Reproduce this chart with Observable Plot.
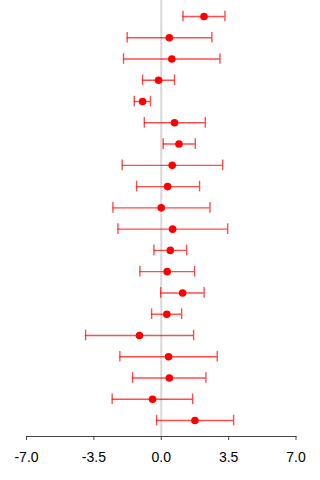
<!DOCTYPE html>
<html>
<head>
<meta charset="utf-8">
<script src="https://cdn.jsdelivr.net/npm/d3@7"></script>
<script src="https://cdn.jsdelivr.net/npm/@observablehq/plot@0.6"></script>
<style>
  html, body { margin: 0; padding: 0; background: #fff; }
  #chart svg { display: block; font-family: "Liberation Sans", Arial, sans-serif; }
</style>
</head>
<body>
<div id="chart"></div>
<script>
// Study rows, top to bottom
const rowIds = [1, 2, 3, 4, 5, 6, 7, 8, 9, 10, 11, 12, 13, 14, 15, 16, 17, 18, 19, 20];
// Point estimates
const estimates = [2.22, 0.42, 0.55, -0.14, -0.97, 0.69, 0.92, 0.57, 0.33, 0.0,
                   0.59, 0.47, 0.31, 1.11, 0.29, -1.13, 0.38, 0.42, -0.45, 1.75];
// Lower interval bounds
const lowers = [1.13, -1.77, -1.96, -0.97, -1.40, -0.88, 0.10, -2.03, -1.28, -2.51,
                -2.25, -0.38, -1.11, -0.03, -0.50, -3.93, -2.15, -1.49, -2.55, -0.24];
// Upper interval bounds
const uppers = [3.31, 2.63, 3.05, 0.69, -0.56, 2.29, 1.77, 3.19, 1.99, 2.53,
                3.45, 1.32, 1.73, 2.23, 1.06, 1.68, 2.91, 2.32, 1.63, 3.76];
// Axis ticks and their labels
const xTicks = [-7, -3.5, 0, 3.5, 7];
const xTickLabels = ["-7.0", "-3.5", "0.0", "3.5", "7.0"];

const rows = rowIds.map((id, i) => ({id, est: estimates[i], lo: lowers[i], hi: uppers[i]}));

const chart = Plot.plot({
  width: 320,
  height: 480,
  marginLeft: 26,
  marginRight: 24.5,
  marginTop: 0,
  marginBottom: 44,
  x: {domain: [-7, 7]},
  y: {type: "band", domain: rowIds, paddingInner: 0.5, paddingOuter: 0.5, round: false, axis: null},
  marks: [
    Plot.ruleX([0], {stroke: "#d8d8d8", strokeWidth: 2}),
    Plot.ruleY(rows, {y: "id", x1: "lo", x2: "hi", stroke: "red", strokeOpacity: 0.7, strokeWidth: 1.4}),
    Plot.tickX(rows, {x: "lo", y: "id", stroke: "red", strokeOpacity: 0.7, strokeWidth: 1.4}),
    Plot.tickX(rows, {x: "hi", y: "id", stroke: "red", strokeOpacity: 0.7, strokeWidth: 1.4}),
    Plot.dot(rows, {x: "est", y: "id", fill: "red", r: 3.8}),
    Plot.frame({anchor: "bottom", stroke: "#444"}),
    Plot.axisX({
      ticks: xTicks,
      tickFormat: (d, i) => xTickLabels[i],
      tickSize: 4,
      tickPadding: 12,
      fontSize: 14,
      stroke: "#444",
      color: "#000",
      label: null
    })
  ]
});

document.getElementById("chart").appendChild(chart);
</script>
</body>
</html>
